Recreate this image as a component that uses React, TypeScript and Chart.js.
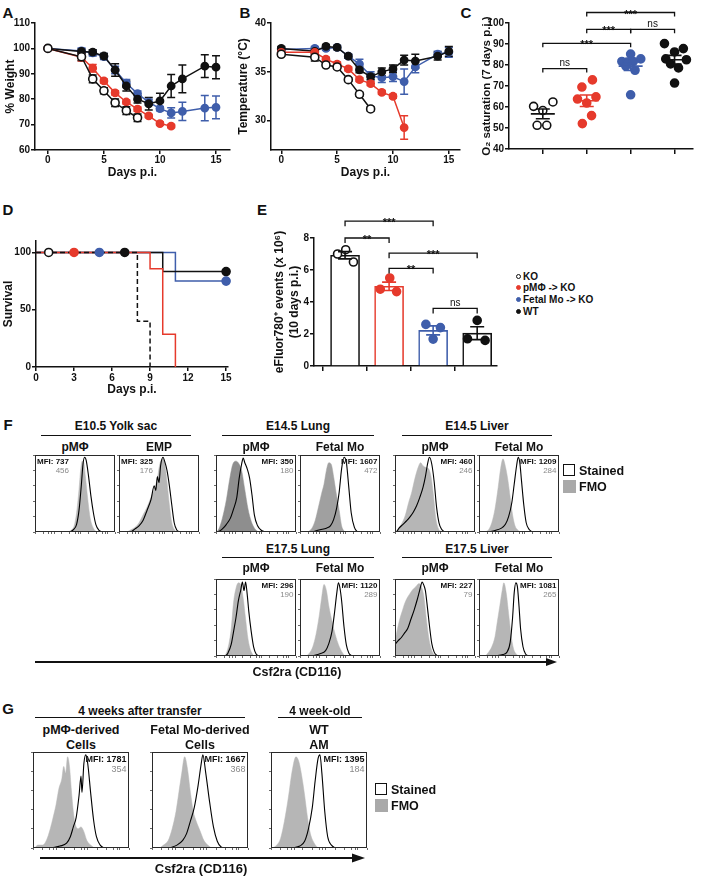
import React, { useEffect, useRef } from "react";
import { Chart, registerables } from "chart.js";
Chart.register(...registerables);

const FONT = '"Liberation Sans", Arial, Helvetica, sans-serif';
const RED = "#e63a2c";
const BLUE = "#3f5eab";
const BLK = "#111111";
const GRAY_LIGHT = "#b6b6b6";
const GRAY_MID = "#a0a0a0";
const GRAY_DARK = "#8e8e8e";

// ================= DATA =================
// Panel A / B : days p.i.
const allDays = [0, 3, 4, 5, 6, 7, 8, 9, 10, 11, 12, 14, 15];
const pmDays = [0, 3, 4, 5, 6, 7, 8, 9, 10, 11];
const koDays = [0, 3, 4, 5, 6, 7, 8];

// Panel A: % weight (mean, SEM)
const wtWeight = [100, 98.8, 98.5, 97, 91.5, 85.2, 80, 78.2, 79.3, 85.2, 88, 93, 92.6];
const wtWeightErr = [0, 1, 1, 1, 2.5, 2, 1.5, 2.5, 3, 4.5, 5.5, 4.5, 4.5];
const foWeight = [100, 99, 98.2, 96.8, 91.5, 86.3, 82.2, 78.8, 76.3, 74.6, 75.2, 76.5, 76.8];
const foWeightErr = [0, 1.2, 1.2, 1.2, 1.5, 1.5, 1, 1.2, 0.8, 2, 3.6, 5, 4.5];
const pmWeight = [100, 96.5, 92.2, 87.2, 82.5, 78.9, 76.1, 73.4, 70.4, 69.4];
const pmWeightErr = [0, 1.5, 1.5, 0.8, 0.8, 0.8, 0.8, 0.6, 0.6, 0.6];
const koWeight = [100, 96.7, 88, 83.3, 78.6, 75.5, 72.7];
const koWeightErr = [0, 1.5, 1.5, 1.2, 1.5, 1.5, 1.5];

// Panel B: temperature (°C)
const wtTemp = [37.4, 37.1, 37.6, 37.5, 36.6, 35.2, 34.5, 35.0, 35.3, 36.2, 36.1, 36.6, 37.1];
const wtTempErr = [0.2, 0.3, 0.2, 0.2, 0.2, 0.3, 0.3, 0.4, 0.4, 0.5, 0.7, 0.4, 0.5];
const foTemp = [37.3, 37.4, 37.4, 37.5, 36.6, 35.8, 34.6, 34.4, 34.5, 34.0, 35.5, 36.8, 37.0];
const foTempErr = [0.2, 0.2, 0.2, 0.2, 0.2, 0.5, 0.4, 0.5, 0.5, 1.3, 0.6, 0.3, 0.5];
const pmTemp = [37.0, 37.0, 36.3, 35.8, 35.3, 34.2, 33.8, 32.9, 32.5, 29.3];
const pmTempErr = [0.2, 0.2, 0.2, 0.2, 0.2, 0.2, 0.2, 0.2, 0.2, 1.2];
const koTemp = [36.8, 36.5, 35.7, 35.5, 34.2, 32.7, 31.2];
const koTempErr = [0.2, 0.4, 0.2, 0.2, 0.2, 0.2, 0.2];

// Panel C: O2 saturation, individual mice (value, horizontal jitter in category units)
const o2KO = [60.3, 62.4, 58.3, 51.3, 51.3];
const o2KOJit = [-0.21, 0.23, 0, -0.13, 0.09];
const o2PM = [69.5, 72.9, 64.8, 63.8, 61.9, 55.9, 52.1];
const o2PMJit = [-0.11, 0.13, 0.21, -0.21, 0, 0.11, -0.1];
const o2FO = [85.2, 81.7, 81.4, 81.7, 82.9, 79.5, 77.5, 65.8];
const o2FOJit = [0, -0.2, -0.08, 0.06, 0.23, -0.11, 0.1, 0];
const o2WT = [90.2, 87.8, 86.2, 82.9, 82.5, 80.5, 78.6, 71.4];
const o2WTJit = [-0.23, 0.2, 0, -0.2, 0.27, -0.09, 0.09, 0];
const o2Brackets = [
  { a: 0, b: 1, y: 78.3, t: "ns" },
  { a: 0, b: 2, y: 90.3, t: "***" },
  { a: 1, b: 2, y: 97, t: "***" },
  { a: 2, b: 3, y: 97, t: "ns" },
  { a: 1, b: 3, y: 105, t: "***" },
];

// Panel D: survival (%)
const koSurvDays = [0, 8, 9];
const koSurv = [100, 40, 0];
const pmSurvDays = [0, 9, 10, 11];
const pmSurv = [100, 85.7, 28.6, 0];
const foSurvDays = [0, 11, 15];
const foSurv = [100, 75, 75];
const wtSurvDays = [0, 10, 15];
const wtSurv = [100, 83.3, 83.3];
const survMarkDays = [1, 3, 5, 7, 15, 15];
const survMarkVals = [100, 100, 100, 100, 83.3, 75];
const survMarkGroup = ["KO", "PM", "FO", "WT", "WT", "FO"];

// Panel E: eFluor780+ events (x10^6), individual mice
const efKO = [7.0, 7.27, 6.5];
const efKOJit = [-0.17, 0.015, 0.19];
const efPM = [4.8, 5.5, 4.65];
const efPMJit = [-0.2, 0.015, 0.17];
const efFO = [2.6, 2.4, 1.68];
const efFOJit = [-0.165, 0.165, 0];
const efWT = [2.85, 1.7, 1.6];
const efWTJit = [0, -0.22, 0.18];
const efBrackets = [
  { a: 0, b: 1, y: 8.0, t: "**" },
  { a: 0, b: 2, y: 9.05, t: "***" },
  { a: 1, b: 3, y: 7.05, t: "***" },
  { a: 1, b: 2, y: 6.1, t: "**" },
  { a: 2, b: 3, y: 3.6, t: "ns" },
];
const legendLabels = ["KO", "pMΦ -> KO", "Fetal Mo -> KO", "WT"];

// Panels F / G: histograms [fraction of axis, % of mode]
const f1Fmo = [[0.40, 0], [0.45, 2], [0.49, 8], [0.52, 25], [0.55, 55], [0.57, 80], [0.59, 92], [0.61, 90], [0.63, 72], [0.66, 42], [0.69, 18], [0.73, 5], [0.77, 0]];
const f1Stn = [[0.44, 0], [0.48, 3], [0.52, 10], [0.55, 28], [0.58, 62], [0.60, 88], [0.62, 97], [0.64, 93], [0.67, 72], [0.70, 46], [0.73, 25], [0.76, 10], [0.80, 2], [0.84, 0]];
const f2Fmo = [[0.10, 0], [0.15, 3], [0.20, 6], [0.25, 12], [0.30, 22], [0.35, 32], [0.40, 45], [0.44, 55], [0.48, 70], [0.51, 88], [0.54, 95], [0.57, 90], [0.60, 65], [0.63, 35], [0.66, 12], [0.70, 2], [0.73, 0]];
const f2Stn = [[0.15, 0], [0.20, 4], [0.25, 8], [0.30, 15], [0.35, 28], [0.40, 42], [0.44, 60], [0.46, 54], [0.48, 72], [0.50, 64], [0.52, 86], [0.55, 97], [0.57, 92], [0.60, 80], [0.63, 60], [0.66, 35], [0.69, 12], [0.72, 3], [0.76, 0]];
const f3Fmo = [[0.01, 0], [0.04, 5], [0.08, 18], [0.13, 42], [0.17, 68], [0.21, 88], [0.25, 92], [0.29, 88], [0.32, 80], [0.36, 55], [0.40, 30], [0.44, 14], [0.48, 5], [0.53, 0]];
const f3Stn = [[0.03, 0], [0.08, 4], [0.13, 10], [0.18, 18], [0.22, 30], [0.26, 45], [0.29, 70], [0.32, 88], [0.34, 96], [0.36, 90], [0.39, 82], [0.42, 70], [0.45, 48], [0.48, 22], [0.52, 8], [0.57, 2], [0.62, 0]];
const f4Fmo = [[0.10, 0], [0.15, 5], [0.19, 15], [0.23, 32], [0.27, 50], [0.30, 62], [0.33, 80], [0.36, 90], [0.39, 88], [0.42, 72], [0.45, 52], [0.49, 28], [0.52, 8], [0.56, 0]];
const f4Stn = [[0.15, 0], [0.25, 3], [0.33, 5], [0.38, 8], [0.42, 16], [0.46, 32], [0.49, 52], [0.52, 82], [0.55, 97], [0.58, 90], [0.61, 58], [0.64, 25], [0.68, 6], [0.72, 0]];
const f5Fmo = [[0.0, 0], [0.03, 3], [0.08, 10], [0.13, 22], [0.17, 38], [0.21, 52], [0.25, 70], [0.29, 84], [0.32, 90], [0.35, 86], [0.38, 84], [0.42, 82], [0.45, 72], [0.48, 48], [0.51, 18], [0.54, 5], [0.58, 0]];
const f5Stn = [[0.02, 0], [0.05, 5], [0.10, 10], [0.15, 15], [0.19, 20], [0.23, 26], [0.27, 34], [0.31, 45], [0.35, 58], [0.38, 72], [0.41, 90], [0.43, 97], [0.46, 88], [0.49, 65], [0.52, 32], [0.55, 12], [0.58, 4], [0.62, 0]];
const f6Fmo = [[0.08, 0], [0.12, 3], [0.16, 12], [0.20, 30], [0.24, 58], [0.27, 82], [0.30, 95], [0.33, 85], [0.36, 68], [0.39, 45], [0.42, 22], [0.45, 8], [0.49, 2], [0.52, 0]];
const f6Stn = [[0.12, 0], [0.20, 2], [0.28, 5], [0.33, 10], [0.37, 20], [0.41, 38], [0.44, 62], [0.47, 86], [0.49, 97], [0.51, 90], [0.53, 68], [0.56, 35], [0.59, 12], [0.63, 3], [0.67, 0]];
const f7Fmo = [[0.10, 0], [0.13, 4], [0.16, 15], [0.19, 35], [0.22, 70], [0.25, 88], [0.28, 95], [0.31, 92], [0.34, 75], [0.37, 48], [0.40, 22], [0.43, 8], [0.47, 0]];
const f7Stn = [[0.12, 0], [0.15, 4], [0.19, 15], [0.22, 32], [0.25, 50], [0.28, 72], [0.31, 86], [0.33, 96], [0.35, 85], [0.37, 96], [0.39, 80], [0.41, 58], [0.44, 32], [0.47, 12], [0.50, 3], [0.54, 0]];
const f8Fmo = [[0.08, 0], [0.12, 4], [0.16, 12], [0.20, 28], [0.24, 52], [0.27, 75], [0.30, 93], [0.33, 85], [0.36, 65], [0.40, 45], [0.44, 28], [0.48, 15], [0.52, 6], [0.56, 0]];
const f8Stn = [[0.15, 0], [0.25, 3], [0.32, 7], [0.36, 16], [0.40, 32], [0.43, 55], [0.46, 82], [0.48, 95], [0.50, 88], [0.52, 72], [0.55, 38], [0.58, 14], [0.61, 4], [0.65, 0]];
const f9Fmo = [[0.0, 20], [0.03, 35], [0.06, 48], [0.09, 58], [0.12, 68], [0.15, 75], [0.18, 80], [0.22, 86], [0.26, 90], [0.30, 94], [0.33, 90], [0.36, 78], [0.39, 50], [0.42, 25], [0.45, 10], [0.48, 3], [0.51, 0]];
const f9Stn = [[0.0, 15], [0.04, 20], [0.08, 24], [0.12, 30], [0.16, 36], [0.20, 48], [0.24, 60], [0.28, 74], [0.31, 86], [0.34, 96], [0.36, 92], [0.38, 85], [0.40, 68], [0.43, 40], [0.46, 16], [0.49, 5], [0.53, 0]];
const f10Fmo = [[0.08, 0], [0.12, 5], [0.16, 12], [0.20, 25], [0.23, 45], [0.26, 65], [0.29, 85], [0.31, 95], [0.34, 82], [0.37, 55], [0.40, 28], [0.43, 10], [0.47, 2], [0.50, 0]];
const f10Stn = [[0.20, 0], [0.30, 2], [0.35, 5], [0.39, 18], [0.42, 50], [0.44, 82], [0.46, 95], [0.48, 90], [0.50, 65], [0.52, 35], [0.55, 12], [0.58, 3], [0.62, 0]];
const g1Fmo = [[0.02, 0], [0.05, 3], [0.10, 3], [0.14, 8], [0.18, 20], [0.21, 32], [0.24, 45], [0.27, 62], [0.30, 72], [0.32, 85], [0.34, 78], [0.36, 95], [0.38, 85], [0.40, 60], [0.42, 38], [0.44, 25], [0.47, 20], [0.50, 22], [0.53, 17], [0.56, 8], [0.60, 3], [0.64, 0]];
const g1Stn = [[0.20, 0], [0.28, 2], [0.35, 5], [0.39, 12], [0.42, 22], [0.45, 32], [0.48, 55], [0.50, 75], [0.51, 58], [0.53, 88], [0.55, 97], [0.57, 88], [0.60, 58], [0.63, 30], [0.66, 12], [0.70, 3], [0.74, 0]];
const g2Fmo = [[0.08, 0], [0.12, 3], [0.17, 8], [0.21, 20], [0.25, 38], [0.28, 58], [0.31, 78], [0.34, 95], [0.37, 82], [0.40, 58], [0.43, 38], [0.46, 28], [0.50, 18], [0.54, 8], [0.58, 3], [0.62, 0]];
const g2Stn = [[0.18, 0], [0.26, 3], [0.32, 8], [0.36, 15], [0.40, 28], [0.44, 42], [0.48, 65], [0.51, 86], [0.53, 97], [0.56, 78], [0.60, 48], [0.64, 22], [0.68, 7], [0.72, 1], [0.76, 0]];
const g3Fmo = [[0.02, 0], [0.06, 3], [0.10, 10], [0.14, 28], [0.18, 52], [0.22, 80], [0.26, 95], [0.29, 90], [0.32, 75], [0.35, 55], [0.38, 32], [0.41, 15], [0.45, 5], [0.49, 0]];
const g3Stn = [[0.22, 0], [0.30, 2], [0.35, 7], [0.39, 20], [0.43, 42], [0.46, 70], [0.49, 93], [0.51, 97], [0.53, 78], [0.56, 38], [0.59, 12], [0.63, 3], [0.67, 0]];

const fMfiStained = [737, 325, 350, 1607, 460, 1209, 296, 1120, 227, 1081];
const fMfiFmo = [456, 176, 180, 472, 246, 284, 190, 289, 79, 265];
const fSubTitles = ["pMΦ", "EMP", "pMΦ", "Fetal Mo", "pMΦ", "Fetal Mo", "pMΦ", "Fetal Mo", "pMΦ", "Fetal Mo"];
const gMfiStained = [1781, 1667, 1395];
const gMfiFmo = [354, 368, 184];
const gSubTitles = [["pMΦ-derived", "Cells"], ["Fetal Mo-derived", "Cells"], ["WT", "AM"]];
const histXTicks = [0, 0.1, 0.17, 0.21, 0.24, 0.33, 0.43, 0.5, 0.54, 0.57, 0.67, 0.77, 0.84, 0.88, 0.9, 1];
const histYTicks = [0, 20, 40, 60, 80, 100];

// ================= LAYOUT =================
type Box = { left: number; top: number; width: number; height: number };
type Rect = { l: number; t: number; r: number; b: number };

const DIV_A: Box = { left: 0, top: 0, width: 240, height: 184 };
const PLOT_A: Rect = { l: 35, t: 23, r: 230, b: 150 };
const DIV_B: Box = { left: 232, top: 0, width: 236, height: 184 };
const PLOT_B: Rect = { l: 271, t: 23, r: 460, b: 150 };
const DIV_C: Box = { left: 470, top: 0, width: 238, height: 184 };
const PLOT_C: Rect = { l: 509, t: 23, r: 693, b: 149 };
const DIV_D: Box = { left: 0, top: 205, width: 240, height: 196 };
const PLOT_D: Rect = { l: 36, t: 241, r: 228, b: 367 };
const DIV_E: Box = { left: 262, top: 205, width: 245, height: 196 };
const PLOT_E: Rect = { l: 314, t: 238, r: 497, b: 366 };

const F_BOXES = [
  { x: 35, y: 455 }, { x: 119, y: 455 }, { x: 216, y: 455 }, { x: 300, y: 455 }, { x: 395, y: 455 }, { x: 479, y: 455 },
  { x: 216, y: 579 }, { x: 300, y: 579 }, { x: 395, y: 579 }, { x: 479, y: 579 },
];
const F_W = 80;
const F_H = 77;
const G_BOXES = [{ x: 33, y: 752 }, { x: 152, y: 752 }, { x: 271, y: 752 }];
const G_W = 96;
const G_H = 96;

function frame(div: Box, plot: Rect) {
  return {
    padding: { left: 0, top: plot.t - div.top, right: div.left + div.width - plot.r, bottom: 0 },
    yW: plot.l - div.left,
    xH: div.top + div.height - plot.b,
  };
}

function mkAxis(pos: "x" | "y", size: number, o: any) {
  const isX = pos === "x";
  return {
    type: "linear",
    position: isX ? "bottom" : "left",
    min: o.min,
    max: o.max,
    offset: false,
    afterFit: (s: any) => {
      if (isX) s.height = size;
      else s.width = size;
    },
    afterBuildTicks: (s: any) => {
      s.ticks = o.ticks.map((v: number) => ({ value: v }));
    },
    grid: {
      display: true,
      drawOnChartArea: false,
      drawTicks: true,
      tickLength: o.tickLen ?? 4,
      color: o.tickColor ?? BLK,
      lineWidth: o.tickWidth ?? 1.5,
    },
    border: { display: o.border !== false, color: BLK, width: 1.5 },
    ticks: {
      display: !!o.labels,
      color: BLK,
      font: { family: FONT, size: 10, weight: "bold" },
      padding: o.tickPad ?? 1,
      maxRotation: 0,
      autoSkip: false,
    },
    title: o.title
      ? {
          display: true,
          text: o.title,
          color: BLK,
          font: { family: FONT, size: o.titleSize ?? 12, weight: "bold" },
          padding: { top: o.titlePad ?? 4, bottom: o.titlePad ?? 4 },
        }
      : { display: false },
  };
}

function baseConfig(type: string, datasets: any[], scales: any, plugins: any[], padding: any) {
  return {
    type,
    data: { datasets },
    options: {
      responsive: false,
      animation: false,
      events: [],
      layout: { padding },
      plugins: { legend: { display: false }, tooltip: { enabled: false } },
      scales,
    },
    plugins,
  };
}

const pts = (xs: number[], ys: number[]) => xs.map((x, i) => ({ x, y: ys[i] }));

type Series = { d: number[]; v: number[]; e: number[]; c: string; open?: boolean };

function lineDs(s: Series) {
  return {
    type: "line",
    data: pts(s.d, s.v),
    borderColor: s.c,
    borderWidth: 1.5,
    pointRadius: s.open ? 4 : 3.6,
    pointBackgroundColor: s.open ? "#ffffff" : s.c,
    pointBorderColor: s.c,
    pointBorderWidth: 1.6,
    tension: 0,
    clip: false,
  };
}

function errPlugin(series: Series[]) {
  return {
    id: "errbars",
    beforeDatasetsDraw(chart: any) {
      const { ctx, scales } = chart;
      const x = scales.x;
      const y = scales.y;
      ctx.save();
      ctx.lineWidth = 1.5;
      [...series].reverse().forEach((s) => {
        ctx.strokeStyle = s.c;
        s.d.forEach((d, i) => {
          const e = s.e[i];
          if (!e) return;
          const px = x.getPixelForValue(d);
          const y1 = y.getPixelForValue(s.v[i] + e);
          const y2 = y.getPixelForValue(s.v[i] - e);
          ctx.beginPath();
          ctx.moveTo(px, y1);
          ctx.lineTo(px, y2);
          ctx.moveTo(px - 4, y1);
          ctx.lineTo(px + 4, y1);
          ctx.moveTo(px - 4, y2);
          ctx.lineTo(px + 4, y2);
          ctx.stroke();
        });
      });
      ctx.restore();
    },
  };
}

function stats(v: number[]) {
  const n = v.length;
  const m = v.reduce((a, b) => a + b, 0) / n;
  const sd = Math.sqrt(v.reduce((a, b) => a + (b - m) * (b - m), 0) / (n - 1));
  return { m, sem: sd / Math.sqrt(n) };
}

type Group = { v: number[]; j: number[]; c: string; open?: boolean };

function meanSemPlugin(groups: Group[], halfMean: number, halfCap: number) {
  return {
    id: "meansem",
    afterDatasetsDraw(chart: any) {
      const { ctx, scales } = chart;
      const x = scales.x;
      const y = scales.y;
      ctx.save();
      ctx.lineWidth = 1.6;
      groups.forEach((g, i) => {
        const { m, sem } = stats(g.v);
        const px = x.getPixelForValue(i);
        const pm = y.getPixelForValue(m);
        const pu = y.getPixelForValue(m + sem);
        const pl = y.getPixelForValue(m - sem);
        ctx.strokeStyle = g.c;
        ctx.beginPath();
        if (halfMean > 0) {
          ctx.moveTo(px - halfMean, pm);
          ctx.lineTo(px + halfMean, pm);
        }
        ctx.moveTo(px, pu);
        ctx.lineTo(px, pl);
        ctx.moveTo(px - halfCap, pu);
        ctx.lineTo(px + halfCap, pu);
        ctx.moveTo(px - halfCap, pl);
        ctx.lineTo(px + halfCap, pl);
        ctx.stroke();
      });
      ctx.restore();
    },
  };
}

function bracketPlugin(list: { a: number; b: number; y: number; t: string }[], drop: number) {
  return {
    id: "brackets",
    afterDraw(chart: any) {
      const { ctx, scales } = chart;
      const x = scales.x;
      const y = scales.y;
      ctx.save();
      ctx.strokeStyle = BLK;
      ctx.fillStyle = BLK;
      ctx.lineWidth = 1.3;
      ctx.textAlign = "center";
      ctx.textBaseline = "alphabetic";
      list.forEach((br) => {
        const x1 = x.getPixelForValue(br.a);
        const x2 = x.getPixelForValue(br.b);
        const py = y.getPixelForValue(br.y);
        ctx.beginPath();
        ctx.moveTo(x1, py + drop);
        ctx.lineTo(x1, py);
        ctx.lineTo(x2, py);
        ctx.lineTo(x2, py + drop);
        ctx.stroke();
        if (br.t === "ns") {
          ctx.font = `10px ${FONT}`;
          ctx.fillText(br.t, (x1 + x2) / 2, py - 2.5);
        } else {
          ctx.font = `bold 11px ${FONT}`;
          ctx.fillText(br.t, (x1 + x2) / 2, py + 5);
        }
      });
      ctx.restore();
    },
  };
}

// ================= CHART BUILDERS =================
function buildWeight() {
  const L = frame(DIV_A, PLOT_A);
  const ser: Series[] = [
    { d: koDays, v: koWeight, e: koWeightErr, c: BLK, open: true },
    { d: pmDays, v: pmWeight, e: pmWeightErr, c: RED },
    { d: allDays, v: wtWeight, e: wtWeightErr, c: BLK },
    { d: allDays, v: foWeight, e: foWeightErr, c: BLUE },
  ];
  return baseConfig(
    "line",
    ser.map(lineDs),
    {
      x: mkAxis("x", L.xH, { min: -1.15, max: 16.25, ticks: [0, 5, 10, 15], labels: true, title: "Days p.i.", tickPad: 0 }),
      y: mkAxis("y", L.yW, { min: 60, max: 110, ticks: [60, 70, 80, 90, 100, 110], labels: true, title: "% Weight", titlePad: 3 }),
    },
    [errPlugin(ser)],
    L.padding
  );
}

function buildTemp() {
  const L = frame(DIV_B, PLOT_B);
  const ser: Series[] = [
    { d: koDays, v: koTemp, e: koTempErr, c: BLK, open: true },
    { d: pmDays, v: pmTemp, e: pmTempErr, c: RED },
    { d: allDays, v: wtTemp, e: wtTempErr, c: BLK },
    { d: allDays, v: foTemp, e: foTempErr, c: BLUE },
  ];
  return baseConfig(
    "line",
    ser.map(lineDs),
    {
      x: mkAxis("x", L.xH, { min: -0.92, max: 16.0, ticks: [0, 5, 10, 15], labels: true, title: "Days p.i.", tickPad: 0 }),
      y: mkAxis("y", L.yW, { min: 27.0, max: 40, ticks: [30, 35, 40], labels: true, title: "Temperature (°C)", titlePad: 4 }),
    },
    [errPlugin(ser)],
    L.padding
  );
}

function buildO2() {
  const L = frame(DIV_C, PLOT_C);
  const groups: Group[] = [
    { v: o2KO, j: o2KOJit, c: BLK, open: true },
    { v: o2PM, j: o2PMJit, c: RED },
    { v: o2FO, j: o2FOJit, c: BLUE },
    { v: o2WT, j: o2WTJit, c: BLK },
  ];
  const ds = groups.map((g, i) => ({
    type: "line",
    showLine: false,
    data: g.v.map((v, k) => ({ x: i + g.j[k], y: v })),
    pointRadius: 4,
    pointBackgroundColor: g.open ? "#ffffff" : g.c,
    pointBorderColor: g.c,
    pointBorderWidth: 1.6,
    clip: false,
  }));
  return baseConfig(
    "line",
    ds,
    {
      x: mkAxis("x", L.xH, { min: -0.77, max: 3.42, ticks: [0, 1, 2, 3], labels: false, tickLen: 5 }),
      y: mkAxis("y", L.yW, {
        min: 40,
        max: 100,
        ticks: [40, 50, 60, 70, 80, 90, 100],
        labels: true,
        title: "O₂ saturation (7 days p.i.)",
        titlePad: 10,
        titleSize: 11.5,
      }),
    },
    [meanSemPlugin(groups, 12, 7), bracketPlugin(o2Brackets, 4)],
    L.padding
  );
}

function buildSurvival() {
  const L = frame(DIV_D, PLOT_D);
  const colorOf: Record<string, string> = { KO: BLK, PM: RED, FO: BLUE, WT: BLK };
  const stepDs = (xs: number[], ys: number[], c: string, dash: number[]) => ({
    type: "line",
    data: pts(xs, ys),
    stepped: "before",
    borderColor: c,
    borderWidth: 1.5,
    borderDash: dash,
    pointRadius: 0,
    clip: false,
  });
  const marks = {
    type: "line",
    showLine: false,
    data: pts(survMarkDays, survMarkVals),
    pointRadius: 4,
    pointBackgroundColor: survMarkGroup.map((g) => (g === "KO" ? "#ffffff" : colorOf[g])),
    pointBorderColor: survMarkGroup.map((g) => colorOf[g]),
    pointBorderWidth: 1.6,
    clip: false,
  };
  return baseConfig(
    "line",
    [
      marks,
      stepDs(koSurvDays, koSurv, BLK, [5, 3]),
      stepDs(pmSurvDays, pmSurv, RED, []),
      stepDs(wtSurvDays, wtSurv, BLK, []),
      stepDs(foSurvDays, foSurv, BLUE, []),
    ],
    {
      x: mkAxis("x", L.xH, { min: 0, max: 15.15, ticks: [0, 3, 6, 9, 12, 15], labels: true, title: "Days p.i.", tickPad: 1 }),
      y: mkAxis("y", L.yW, { min: 0, max: 110, ticks: [0, 50, 100], labels: true, title: "Survival", titlePad: 1.5 }),
    },
    [],
    L.padding
  );
}

function buildEvents() {
  const L = frame(DIV_E, PLOT_E);
  const groups: Group[] = [
    { v: efKO, j: efKOJit, c: BLK, open: true },
    { v: efPM, j: efPMJit, c: RED },
    { v: efFO, j: efFOJit, c: BLUE },
    { v: efWT, j: efWTJit, c: BLK },
  ];
  const pointDs = groups.map((g, i) => ({
    type: "line",
    showLine: false,
    data: g.v.map((v, k) => ({ x: i + g.j[k], y: v })),
    pointRadius: 4,
    pointBackgroundColor: g.open ? "#ffffff" : g.c,
    pointBorderColor: g.c,
    pointBorderWidth: 1.6,
    clip: false,
  }));
  const barDs = {
    type: "bar",
    data: groups.map((g, i) => ({ x: i, y: stats(g.v).m })),
    backgroundColor: "#ffffff",
    borderColor: groups.map((g) => g.c),
    borderWidth: 1.6,
    borderSkipped: "bottom",
    barThickness: 29,
    grouped: false,
  };
  return baseConfig(
    "bar",
    [...pointDs, barDs],
    {
      x: mkAxis("x", L.xH, { min: -0.705, max: 3.45, ticks: [0, 1, 2, 3], labels: false, tickLen: 5 }),
      y: mkAxis("y", L.yW, {
        min: 0,
        max: 8,
        ticks: [0, 2, 4, 6, 8],
        labels: true,
        title: ["eFluor780⁺ events (x 10⁶)", "(10 days p.i.)"],
        titlePad: 10.8,
      }),
    },
    [meanSemPlugin(groups, 0, 7), bracketPlugin(efBrackets, 5)],
    L.padding
  );
}

function boxPlugin() {
  return {
    id: "box",
    afterDraw(chart: any) {
      const { ctx, chartArea: a } = chart;
      ctx.save();
      ctx.strokeStyle = "#2a2a2a";
      ctx.lineWidth = 1;
      ctx.strokeRect(a.left + 0.5, a.top + 0.5, a.right - a.left - 1, a.bottom - a.top - 1);
      ctx.restore();
    },
  };
}

function buildHist(bx: number, by: number, bw: number, bh: number, fmo: number[][], stn: number[][], gray: string) {
  const div: Box = { left: bx - 4, top: by - 1, width: bw + 5, height: bh + 5 };
  const L = frame(div, { l: bx, t: by, r: bx + bw, b: by + bh });
  const toPts = (arr: number[][]) => arr.map(([x, y]) => ({ x, y }));
  return baseConfig(
    "line",
    [
      {
        data: toPts(stn),
        borderColor: "#000000",
        borderWidth: 1.1,
        pointRadius: 0,
        fill: false,
        cubicInterpolationMode: "monotone",
      },
      {
        data: toPts(fmo),
        borderColor: gray,
        backgroundColor: gray,
        borderWidth: 0.5,
        pointRadius: 0,
        fill: "origin",
        cubicInterpolationMode: "monotone",
      },
    ],
    {
      x: mkAxis("x", L.xH, { min: 0, max: 1, ticks: histXTicks, labels: false, tickLen: 2, tickWidth: 0.8, tickColor: "#444", border: false }),
      y: mkAxis("y", L.yW, { min: 0, max: 100, ticks: histYTicks, labels: false, tickLen: 2, tickWidth: 0.8, tickColor: "#444", border: false }),
    },
    [boxPlugin()],
    L.padding
  );
}

// ================= COMPONENTS =================
function ChartBox({ box, build }: { box: Box; build: () => any }) {
  const ref = useRef<HTMLCanvasElement | null>(null);
  useEffect(() => {
    if (!ref.current) return;
    const chart = new Chart(ref.current, build() as any);
    return () => chart.destroy();
  }, []);
  return (
    <div style={{ position: "absolute", left: box.left, top: box.top, width: box.width, height: box.height }}>
      <canvas ref={ref} width={box.width} height={box.height} style={{ width: box.width, height: box.height, display: "block" }} />
    </div>
  );
}

function T({ x, y, children, size = 12, weight = "bold", color = BLK, anchor = "center" }: any) {
  const tx = anchor === "center" ? "-50%" : anchor === "right" ? "-100%" : "0";
  return (
    <div
      style={{
        position: "absolute",
        left: x,
        top: y,
        transform: `translate(${tx},-50%)`,
        fontSize: size,
        fontWeight: weight,
        color,
        whiteSpace: "nowrap",
        lineHeight: 1,
      }}
    >
      {children}
    </div>
  );
}

function HLine({ x1, x2, y, w = 1.5 }: any) {
  return <div style={{ position: "absolute", left: x1, top: y - w / 2, width: x2 - x1, height: 0, borderTop: `${w}px solid ${BLK}` }} />;
}

function Mfi({ bx, by, bw, stained, fmo, left, size, lh }: any) {
  const style: any = {
    position: "absolute",
    top: by + 1.5,
    textAlign: "right",
    fontSize: size,
    lineHeight: `${lh}px`,
    whiteSpace: "nowrap",
  };
  if (left) style.left = bx + 2;
  else style.right = 708 - (bx + bw - 2.5);
  return (
    <div style={style}>
      <div style={{ fontWeight: "bold", color: BLK }}>MFI: {stained}</div>
      <div style={{ color: "#8a8a8a" }}>{fmo}</div>
    </div>
  );
}

function StainLegend({ x, y }: any) {
  return (
    <>
      <div style={{ position: "absolute", left: x, top: y, width: 10, height: 10, border: `1.5px solid ${BLK}`, background: "#fff" }} />
      <T x={x + 16} y={y + 6.5} size={12.5} anchor="left">Stained</T>
      <div style={{ position: "absolute", left: x, top: y + 16, width: 13, height: 13, background: "#a9a9a9" }} />
      <T x={x + 16} y={y + 23} size={12.5} anchor="left">FMO</T>
    </>
  );
}

const fData = [
  [f1Fmo, f1Stn, GRAY_LIGHT],
  [f2Fmo, f2Stn, GRAY_LIGHT],
  [f3Fmo, f3Stn, GRAY_DARK],
  [f4Fmo, f4Stn, GRAY_MID],
  [f5Fmo, f5Stn, GRAY_LIGHT],
  [f6Fmo, f6Stn, GRAY_LIGHT],
  [f7Fmo, f7Stn, GRAY_LIGHT],
  [f8Fmo, f8Stn, GRAY_LIGHT],
  [f9Fmo, f9Stn, GRAY_LIGHT],
  [f10Fmo, f10Stn, GRAY_LIGHT],
] as any[];
const gData = [
  [g1Fmo, g1Stn, GRAY_LIGHT],
  [g2Fmo, g2Stn, GRAY_LIGHT],
  [g3Fmo, g3Stn, GRAY_LIGHT],
] as any[];

const fHeaders = [
  { t: "E10.5 Yolk sac", cx: 116, y: 426, x1: 41, x2: 191, ly: 436 },
  { t: "E14.5 Lung", cx: 298, y: 426, x1: 222, x2: 374, ly: 436 },
  { t: "E14.5 Liver", cx: 477, y: 426, x1: 402, x2: 552, ly: 436 },
  { t: "E17.5 Lung", cx: 298, y: 549, x1: 222, x2: 374, ly: 558 },
  { t: "E17.5 Liver", cx: 477, y: 549, x1: 402, x2: 552, ly: 558 },
];

export default function App() {
  const legendColors = [BLK, RED, BLUE, BLK];
  return (
    <div
      style={{
        position: "absolute",
        left: 0,
        top: 0,
        width: 708,
        height: 877,
        background: "#ffffff",
        overflow: "hidden",
        fontFamily: FONT,
        color: BLK,
      }}
    >
      {/* panel letters */}
      <T x={8} y={12} size={15}>A</T>
      <T x={245} y={12} size={15}>B</T>
      <T x={466} y={12} size={15}>C</T>
      <T x={8} y={209} size={15}>D</T>
      <T x={262} y={209} size={15}>E</T>
      <T x={8} y={424} size={15}>F</T>
      <T x={8} y={708} size={15}>G</T>

      <ChartBox box={DIV_A} build={buildWeight} />
      <ChartBox box={DIV_B} build={buildTemp} />
      <ChartBox box={DIV_C} build={buildO2} />
      <ChartBox box={DIV_D} build={buildSurvival} />
      <ChartBox box={DIV_E} build={buildEvents} />

      {/* legend for D/E */}
      {legendLabels.map((l, i) => (
        <React.Fragment key={l}>
          <div
            style={{
              position: "absolute",
              left: 515.5,
              top: 273.5 + i * 11.8,
              width: 5,
              height: 5,
              borderRadius: "50%",
              boxSizing: "border-box",
              border: `1.2px solid ${legendColors[i]}`,
              background: i === 0 ? "#fff" : legendColors[i],
            }}
          />
          <T x={523} y={276.5 + i * 11.8} size={10} anchor="left">{l}</T>
        </React.Fragment>
      ))}

      {/* F headers */}
      {fHeaders.map((h) => (
        <React.Fragment key={h.t}>
          <T x={h.cx} y={h.y} size={12}>{h.t}</T>
          <HLine x1={h.x1} x2={h.x2} y={h.ly} />
        </React.Fragment>
      ))}
      {F_BOXES.map((b, i) => (
        <React.Fragment key={"f" + i}>
          <T x={b.x + F_W / 2} y={b.y - (i < 6 ? 8 : 11)} size={12}>{fSubTitles[i]}</T>
          <ChartBox
            box={{ left: b.x - 4, top: b.y - 1, width: F_W + 5, height: F_H + 5 }}
            build={() => buildHist(b.x, b.y, F_W, F_H, fData[i][0], fData[i][1], fData[i][2])}
          />
          <Mfi bx={b.x} by={b.y} bw={F_W} stained={fMfiStained[i]} fmo={fMfiFmo[i]} left={i < 2} size={8} lh={9.5} />
        </React.Fragment>
      ))}
      <StainLegend x={563} y={464} />

      {/* G headers */}
      <T x={140} y={711} size={12}>4 weeks after transfer</T>
      <HLine x1={35} x2={245} y={718} />
      <T x={320} y={711} size={12}>4 week-old</T>
      <HLine x1={278} x2={362} y={718} />
      {G_BOXES.map((b, i) => (
        <React.Fragment key={"g" + i}>
          <T x={b.x + G_W / 2} y={730} size={12.5}>{gSubTitles[i][0]}</T>
          <T x={b.x + G_W / 2} y={745} size={12.5}>{gSubTitles[i][1]}</T>
          <ChartBox
            box={{ left: b.x - 4, top: b.y - 1, width: G_W + 5, height: G_H + 5 }}
            build={() => buildHist(b.x, b.y, G_W, G_H, gData[i][0], gData[i][1], gData[i][2])}
          />
          <Mfi bx={b.x} by={b.y} bw={G_W} stained={gMfiStained[i]} fmo={gMfiFmo[i]} left={false} size={9} lh={10} />
        </React.Fragment>
      ))}
      <StainLegend x={375} y={783} />

      {/* axis arrows */}
      <svg width={708} height={877} style={{ position: "absolute", left: 0, top: 0, pointerEvents: "none" }}>
        <line x1={35} y1={662} x2={548} y2={662} stroke={BLK} strokeWidth={1.8} />
        <polygon points="546,658 557,662 546,666" fill={BLK} />
        <line x1={40} y1={858} x2={356} y2={858} stroke={BLK} strokeWidth={2} />
        <polygon points="352,853.5 365,858 352,862.5" fill={BLK} />
      </svg>
      <T x={297} y={672} size={12.5}>Csf2ra (CD116)</T>
      <T x={201} y={868} size={13}>Csf2ra (CD116)</T>
    </div>
  );
}
